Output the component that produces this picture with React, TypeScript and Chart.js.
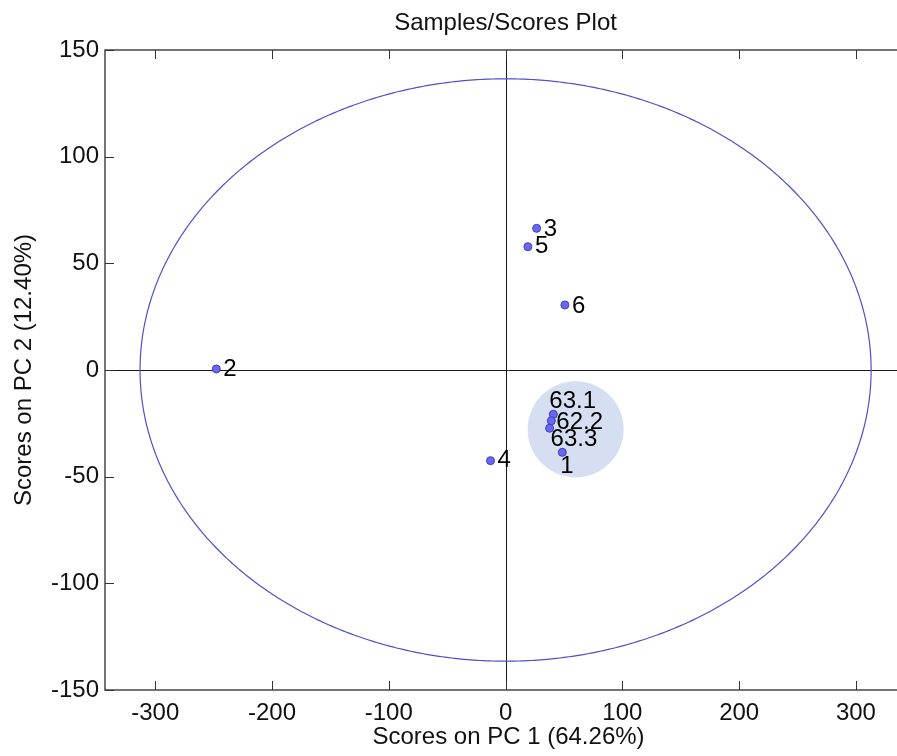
import React, { useEffect, useRef } from "react";
import { Chart, registerables } from "chart.js";

Chart.register(...registerables);

// ---- data ----
const SAMPLE_LABELS = ["2", "4", "3", "5", "6", "63.1", "62.2", "63.3", "1"];
const PC1_SCORES = [-247.7, -12.9, 26.6, 19.1, 50.8, 40.9, 39.2, 37.7, 48.6];
const PC2_SCORES = [0.5, -42.5, 66.4, 57.8, 30.5, -20.8, -23.8, -27.3, -38.6];
const X_TICKS = [-300, -200, -100, 0, 100, 200, 300];
const Y_TICKS = [-150, -100, -50, 0, 50, 100, 150];
const ELLIPSE_SEMI_AXES = [313, 136.5];
const HIGHLIGHT_CENTER = [60, -27.8];

const TITLE = "Samples/Scores Plot";
const X_TITLE = "Scores on PC 1 (64.26%)";
const Y_TITLE = "Scores on PC 2 (12.40%)";

// ---- style ----
const FONT = "'Liberation Sans', Arial, sans-serif";
const LABEL_OFFSETS = [
  [7, 0], [7, 0], [7, 1], [7, 0], [7, 1],
  [-4, -13], [5, 1.5], [1, 11.5], [-2, 14],
];

const framePlugin = {
  id: "frame",
  beforeDatasetsDraw(chart: any) {
    const { ctx, chartArea: a, scales } = chart;
    const xs = scales.x, ys = scales.y;
    ctx.save();
    ctx.strokeStyle = "#1a1a1a";
    ctx.lineWidth = 1;
    const x0 = Math.round(xs.getPixelForValue(0)) + 0.5;
    const y0 = Math.round(ys.getPixelForValue(0)) + 0.5;
    ctx.beginPath();
    ctx.moveTo(x0, a.top);
    ctx.lineTo(x0, a.bottom);
    ctx.moveTo(a.left, y0);
    ctx.lineTo(a.right, y0);
    ctx.stroke();
    ctx.restore();
  },
  afterDatasetsDraw(chart: any) {
    const { ctx, chartArea: a, scales } = chart;
    const xs = scales.x, ys = scales.y;
    ctx.save();
    ctx.strokeStyle = "#2a2a2a";
    ctx.lineWidth = 1.3;
    ctx.strokeRect(a.left, a.top, a.right - a.left, a.bottom - a.top);
    const tl = 9;
    ctx.lineWidth = 1;
    ctx.strokeStyle = "#333";
    ctx.beginPath();
    X_TICKS.forEach((v) => {
      const px = Math.round(xs.getPixelForValue(v)) + 0.5;
      ctx.moveTo(px, a.bottom);
      ctx.lineTo(px, a.bottom - tl);
      ctx.moveTo(px, a.top);
      ctx.lineTo(px, a.top + tl);
    });
    Y_TICKS.forEach((v) => {
      const py = Math.round(ys.getPixelForValue(v)) + 0.5;
      ctx.moveTo(a.left, py);
      ctx.lineTo(a.left + tl, py);
      ctx.moveTo(a.right, py);
      ctx.lineTo(a.right - tl, py);
    });
    ctx.stroke();

    ctx.fillStyle = "#000";
    ctx.font = `24px ${FONT}`;
    ctx.textAlign = "left";
    ctx.textBaseline = "middle";
    SAMPLE_LABELS.forEach((lab, i) => {
      const px = xs.getPixelForValue(PC1_SCORES[i]);
      const py = ys.getPixelForValue(PC2_SCORES[i]);
      const [dx, dy] = LABEL_OFFSETS[i];
      ctx.fillText(lab, px + dx, py + dy);
    });

    ctx.textAlign = "center";
    ctx.font = `24px ${FONT}`;
    ctx.fillStyle = "#111";
    ctx.fillText(TITLE, xs.getPixelForValue(0), 23);
    ctx.restore();
  },
};

export default function App() {
  const ref = useRef<HTMLCanvasElement>(null);

  useEffect(() => {
    if (!ref.current) return;
    const scores = PC1_SCORES.map((x, i) => ({ x, y: PC2_SCORES[i] }));
    const ellipse: { x: number; y: number }[] = [];
    for (let k = 0; k <= 360; k++) {
      const t = (k * Math.PI) / 180;
      ellipse.push({
        x: ELLIPSE_SEMI_AXES[0] * Math.cos(t),
        y: ELLIPSE_SEMI_AXES[1] * Math.sin(t),
      });
    }
    const tickFont = { family: FONT, size: 24 };
    const chart = new Chart(ref.current, {
      type: "scatter",
      data: {
        datasets: [
          {
            label: "Samples",
            data: scores,
            order: 0,
            pointRadius: 4,
            pointHoverRadius: 4,
            backgroundColor: "rgb(104,104,240)",
            borderColor: "rgb(60,60,200)",
            borderWidth: 1,
          },
          {
            label: "Ellipse",
            type: "line",
            data: ellipse,
            order: 1,
            showLine: true,
            pointRadius: 0,
            borderColor: "rgb(80,80,205)",
            borderWidth: 1.2,
            fill: false,
            tension: 0.001,
          } as any,
          {
            label: "Highlight",
            type: "bubble",
            data: [{ x: HIGHLIGHT_CENTER[0], y: HIGHLIGHT_CENTER[1] }],
            order: 2,
            radius: 48,
            hoverRadius: 0,
            backgroundColor: "rgb(214,223,241)",
            borderWidth: 0,
          } as any,
        ],
      },
      options: {
        animation: false,
        responsive: false,
        events: [],
        layout: { autoPadding: false, padding: { top: 50, right: 0, left: 0, bottom: 0 } },
        plugins: {
          legend: { display: false },
          tooltip: { enabled: false },
          title: { display: false },
        },
        scales: {
          x: {
            type: "linear",
            min: -343,
            max: 348,
            afterBuildTicks: (s: any) => {
              s.ticks = X_TICKS.map((v) => ({ value: v }));
            },
            afterFit: (s: any) => {
              s.height = 66;
              s.paddingLeft = 0;
              s.paddingRight = 0;
            },
            grid: { display: false, drawTicks: false },
            border: { display: false },
            ticks: {
              font: tickFont,
              color: "#111",
              padding: 9,
              maxRotation: 0,
              autoSkip: false,
              callback: (v: any) => String(v),
            },
            title: {
              display: true,
              text: X_TITLE,
              font: tickFont,
              color: "#111",
              padding: { top: 0, bottom: 4 },
            },
          },
          y: {
            type: "linear",
            min: -150,
            max: 150,
            afterBuildTicks: (s: any) => {
              s.ticks = Y_TICKS.map((v) => ({ value: v }));
            },
            afterFit: (s: any) => {
              s.width = 105;
              s.paddingTop = 0;
              s.paddingBottom = 0;
            },
            grid: { display: false, drawTicks: false },
            border: { display: false },
            ticks: {
              font: tickFont,
              color: "#111",
              padding: 6,
              autoSkip: false,
              callback: (v: any) => String(v),
            },
            title: {
              display: true,
              text: Y_TITLE,
              font: tickFont,
              color: "#111",
              padding: { top: 10, bottom: 0 },
            },
          },
        },
      } as any,
      plugins: [framePlugin],
    });
    return () => chart.destroy();
  }, []);

  return (
    <div
      style={{
        position: "absolute",
        left: 0,
        top: 0,
        width: 897,
        height: 756,
        overflow: "hidden",
        background: "#fff",
      }}
    >
      <canvas ref={ref} width={912} height={756} />
    </div>
  );
}
